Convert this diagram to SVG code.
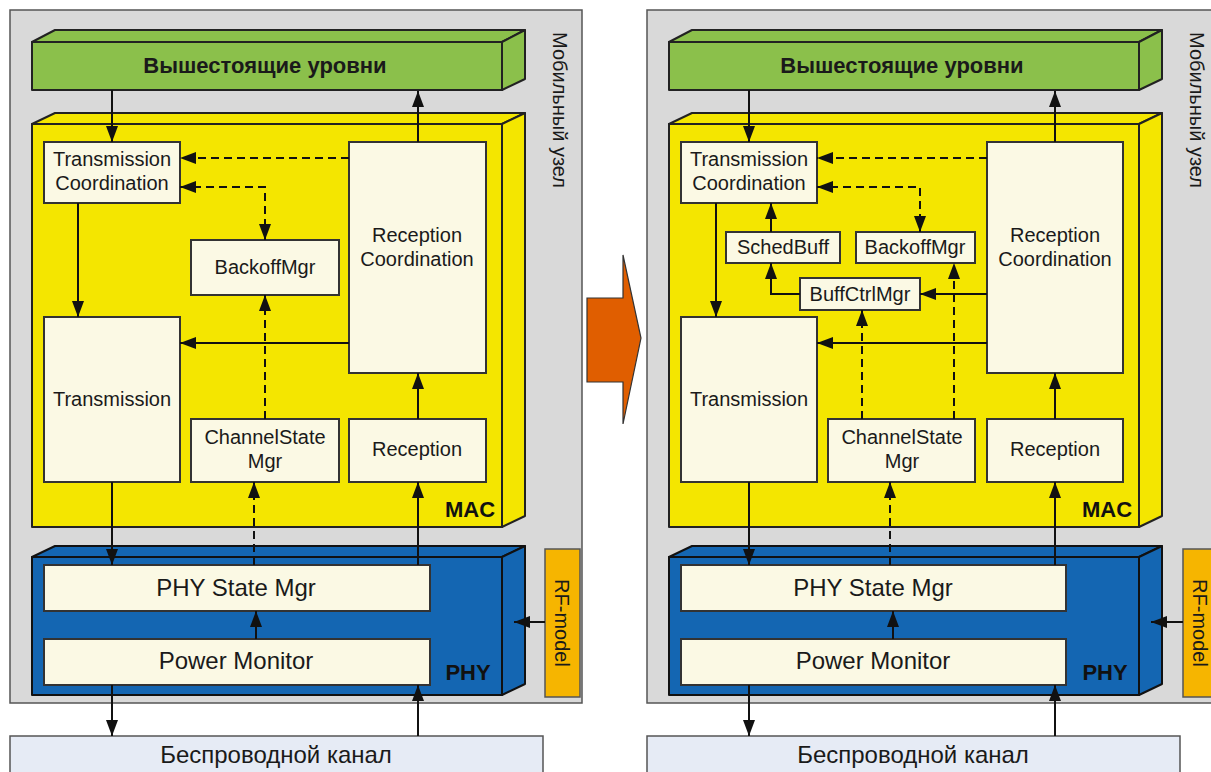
<svg xmlns="http://www.w3.org/2000/svg" width="1211" height="772" viewBox="0 0 1211 772">
<defs>
<style>
.bg{fill:#d9d9d9;stroke:#555;stroke-width:1.5}
.green{fill:#8bc04b;stroke:#222;stroke-width:2;stroke-linejoin:round}
.yellow{fill:#f4e600;stroke:#222;stroke-width:2;stroke-linejoin:round}
.blue{fill:#1466b2;stroke:#111;stroke-width:2;stroke-linejoin:round}
.node{fill:#fbf9e4;stroke:#333;stroke-width:2}
.rf{fill:#f6b500;stroke:#555;stroke-width:1.5}
.chan{fill:#e6ebf5;stroke:#555;stroke-width:1.5}
text{font-family:"Liberation Sans",Arial,sans-serif;fill:#1a1a1a;text-anchor:middle}
.t{font-size:20px}
.tl{font-size:24px}
.ch{font-size:24px}
.big{font-size:22px;font-weight:bold}
.lbl{font-size:22px;font-weight:bold;fill:#111}
.side{font-size:20px}
.c{fill:none;stroke:#111;stroke-width:2}
.d{fill:none;stroke:#111;stroke-width:2;stroke-dasharray:8,5}
.a{marker-end:url(#ah)}
.b{marker-start:url(#ah);marker-end:url(#ah)}
</style>
<marker id="ah" markerUnits="userSpaceOnUse" markerWidth="16" markerHeight="12" refX="16" refY="6" orient="auto-start-reverse" viewBox="0 0 16 12">
<path d="M0,0 L16,6 L0,12 z" fill="#111"/>
</marker>
</defs>
<rect x="0" y="0" width="1211" height="772" fill="#fff"/>

<!-- LEFT PANEL -->
<g id="left-panel">
<g id="mobile-node-l">
<rect class="bg" x="10" y="10" width="572" height="693"/>
<text class="side" transform="translate(553,110) rotate(90)">Мобильный узел</text>
</g>
<g id="upper-l">
<polygon class="green" points="32,42 55,30 525,30 502,42"/>
<polygon class="green" points="502,42 525,30 525,79 502,90"/>
<rect class="green" x="32" y="42" width="470" height="48"/>
<text class="big" x="265" y="73">Вышестоящие уровни</text>
</g>
<g id="mac-l">
<polygon class="yellow" points="32,124 55,113 525,113 502,124"/>
<polygon class="yellow" points="502,124 525,113 525,516 502,527"/>
<rect class="yellow" x="32" y="124" width="470" height="403"/>
<text class="lbl" x="470" y="517">MAC</text>
</g>
<g id="phy-l">
<polygon class="blue" points="32,557 55,546 525,546 502,557"/>
<polygon class="blue" points="502,557 525,546 525,684 502,695"/>
<rect class="blue" x="32" y="557" width="470" height="138"/>
<text class="lbl" x="468" y="680">PHY</text>
</g>
<g id="rf-l">
<rect class="rf" x="545" y="549" width="35" height="148"/>
<text class="side" transform="translate(555,623) rotate(90)">RF-model</text>
</g>
<g id="chan-l">
<rect class="chan" x="10" y="736" width="533" height="45"/>
<text class="ch" x="276" y="763">Беспроводной канал</text>
</g>
<g id="tc-l">
<rect class="node" x="44" y="142" width="136" height="61"/>
<text class="t" x="112" y="166">Transmission</text>
<text class="t" x="112" y="190">Coordination</text>
</g>
<g id="backoff-l">
<rect class="node" x="191" y="240" width="148" height="55"/>
<text class="t" x="265" y="274">BackoffMgr</text>
</g>
<g id="rc-l">
<rect class="node" x="349" y="142" width="137" height="231"/>
<text class="t" x="417" y="242">Reception</text>
<text class="t" x="417" y="266">Coordination</text>
</g>
<g id="tx-l">
<rect class="node" x="44" y="317" width="136" height="165"/>
<text class="t" x="112" y="406">Transmission</text>
</g>
<g id="csm-l">
<rect class="node" x="191" y="419" width="148" height="63"/>
<text class="t" x="265" y="444">ChannelState</text>
<text class="t" x="265" y="468">Mgr</text>
</g>
<g id="rx-l">
<rect class="node" x="349" y="419" width="137" height="63"/>
<text class="t" x="417" y="456">Reception</text>
</g>
<g id="phystate-l">
<rect class="node" x="44" y="565" width="386" height="46"/>
<text class="tl" x="236" y="596">PHY State Mgr</text>
</g>
<g id="power-l">
<rect class="node" x="44" y="639" width="386" height="46"/>
<text class="tl" x="236" y="669">Power Monitor</text>
</g>
<g id="connectors-l">
<line class="c a" x1="112" y1="90" x2="112" y2="142"/>
<line class="c a" x1="418" y1="142" x2="418" y2="91"/>
<line class="d a" x1="349" y1="158" x2="180" y2="158"/>
<polyline class="d b" points="180,187 265,187 265,240"/>
<line class="c a" x1="78" y1="203" x2="78" y2="317"/>
<line class="c a" x1="349" y1="343" x2="180" y2="343"/>
<line class="d a" x1="265" y1="419" x2="265" y2="295"/>
<line class="c a" x1="418" y1="419" x2="418" y2="373"/>
<line class="c a" x1="112" y1="482" x2="112" y2="565"/>
<line class="d a" x1="254" y1="565" x2="254" y2="482"/>
<line class="c a" x1="418" y1="565" x2="418" y2="482"/>
<line class="c a" x1="256" y1="639" x2="256" y2="611"/>
<line class="c a" x1="545" y1="622" x2="514" y2="622"/>
<line class="c a" x1="112" y1="685" x2="112" y2="736"/>
<line class="c a" x1="418" y1="736" x2="418" y2="685"/>
</g>
</g>

<!-- CENTER ARROW -->
<g id="transition-arrow">
<polygon points="587,298 623,298 623,255 641,338 623,424 623,382 587,382" fill="#e05e00" stroke="#333" stroke-width="1.2"/>
</g>

<!-- RIGHT PANEL -->
<g id="right-panel" transform="translate(637,0)">
<g id="mobile-node-r">
<rect class="bg" x="10" y="10" width="620" height="693"/>
<text class="side" transform="translate(553,110) rotate(90)">Мобильный узел</text>
</g>
<g id="upper-r">
<polygon class="green" points="32,42 55,30 525,30 502,42"/>
<polygon class="green" points="502,42 525,30 525,79 502,90"/>
<rect class="green" x="32" y="42" width="470" height="48"/>
<text class="big" x="265" y="73">Вышестоящие уровни</text>
</g>
<g id="mac-r">
<polygon class="yellow" points="32,124 55,113 525,113 502,124"/>
<polygon class="yellow" points="502,124 525,113 525,516 502,527"/>
<rect class="yellow" x="32" y="124" width="470" height="403"/>
<text class="lbl" x="470" y="517">MAC</text>
</g>
<g id="phy-r">
<polygon class="blue" points="32,557 55,546 525,546 502,557"/>
<polygon class="blue" points="502,557 525,546 525,684 502,695"/>
<rect class="blue" x="32" y="557" width="470" height="138"/>
<text class="lbl" x="468" y="680">PHY</text>
</g>
<g id="rf-r">
<rect class="rf" x="546" y="549" width="60" height="148"/>
<text class="side" transform="translate(556,623) rotate(90)">RF-model</text>
</g>
<g id="chan-r">
<rect class="chan" x="10" y="736" width="533" height="45"/>
<text class="ch" x="276" y="763">Беспроводной канал</text>
</g>
<g id="tc-r">
<rect class="node" x="44" y="142" width="136" height="61"/>
<text class="t" x="112" y="166">Transmission</text>
<text class="t" x="112" y="190">Coordination</text>
</g>
<g id="schedbuff-r">
<rect class="node" x="89" y="232" width="114" height="31"/>
<text class="t" x="146" y="254">SchedBuff</text>
</g>
<g id="backoff-r">
<rect class="node" x="219" y="232" width="119" height="31"/>
<text class="t" x="278" y="254">BackoffMgr</text>
</g>
<g id="buffctrl-r">
<rect class="node" x="163" y="278" width="120" height="32"/>
<text class="t" x="223" y="301">BuffCtrlMgr</text>
</g>
<g id="rc-r">
<rect class="node" x="350" y="142" width="136" height="231"/>
<text class="t" x="418" y="242">Reception</text>
<text class="t" x="418" y="266">Coordination</text>
</g>
<g id="tx-r">
<rect class="node" x="44" y="317" width="136" height="165"/>
<text class="t" x="112" y="406">Transmission</text>
</g>
<g id="csm-r">
<rect class="node" x="191" y="419" width="147" height="63"/>
<text class="t" x="265" y="444">ChannelState</text>
<text class="t" x="265" y="468">Mgr</text>
</g>
<g id="rx-r">
<rect class="node" x="350" y="419" width="136" height="63"/>
<text class="t" x="418" y="456">Reception</text>
</g>
<g id="phystate-r">
<rect class="node" x="44" y="565" width="385" height="46"/>
<text class="tl" x="236" y="596">PHY State Mgr</text>
</g>
<g id="power-r">
<rect class="node" x="44" y="639" width="385" height="46"/>
<text class="tl" x="236" y="669">Power Monitor</text>
</g>
<g id="connectors-r">
<line class="c a" x1="112" y1="90" x2="112" y2="142"/>
<line class="c a" x1="418" y1="142" x2="418" y2="91"/>
<line class="d a" x1="350" y1="158" x2="180" y2="158"/>
<polyline class="d b" points="180,187 283,187 283,232"/>
<line class="c a" x1="134" y1="232" x2="134" y2="203"/>
<polyline class="c a" points="163,294 134,294 134,263"/>
<line class="c a" x1="350" y1="294" x2="283" y2="294"/>
<line class="c a" x1="79" y1="203" x2="79" y2="317"/>
<line class="c a" x1="350" y1="343" x2="180" y2="343"/>
<line class="d a" x1="225" y1="419" x2="225" y2="310"/>
<line class="d a" x1="317" y1="419" x2="317" y2="263"/>
<line class="c a" x1="418" y1="419" x2="418" y2="373"/>
<line class="c a" x1="112" y1="482" x2="112" y2="565"/>
<line class="d a" x1="253" y1="565" x2="253" y2="482"/>
<line class="c a" x1="418" y1="565" x2="418" y2="482"/>
<line class="c a" x1="256" y1="639" x2="256" y2="611"/>
<line class="c a" x1="546" y1="622" x2="514" y2="622"/>
<line class="c a" x1="112" y1="685" x2="112" y2="736"/>
<line class="c a" x1="418" y1="736" x2="418" y2="685"/>
</g>
</g>
</svg>
